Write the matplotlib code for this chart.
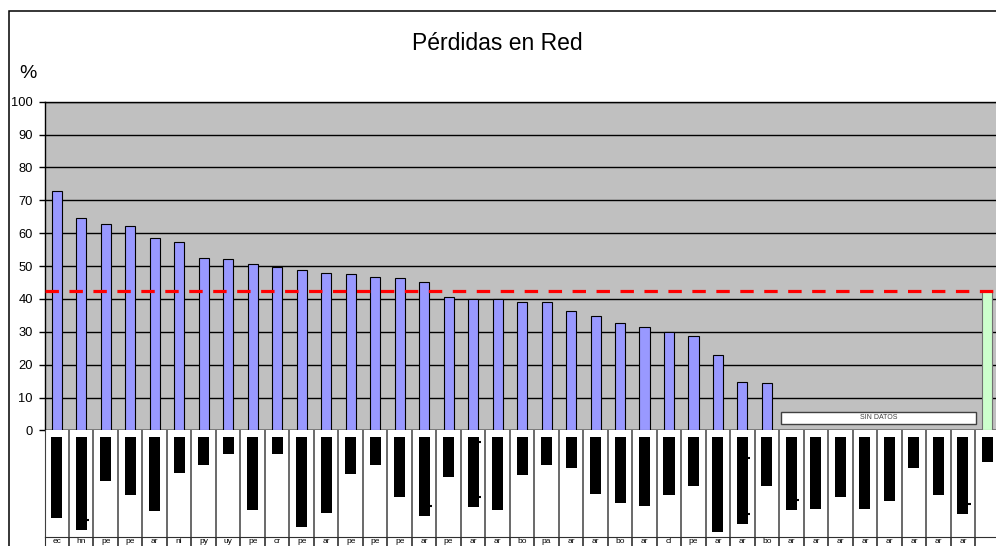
import numpy as np
import matplotlib
matplotlib.use('Agg')
import matplotlib.pyplot as plt
from matplotlib.patches import Rectangle

plt.rcParams['font.family'] = ['Liberation Sans', 'DejaVu Sans']

# Datos
paises = ['ec', 'hn', 'pe', 'pe', 'ar', 'ni', 'py', 'uy', 'pe', 'cr',
          'pe', 'ar', 'pe', 'pe', 'pe', 'ar', 'pe', 'ar', 'ar', 'bo',
          'pa', 'ar', 'ar', 'bo', 'ar', 'cl', 'pe', 'ar', 'ar', 'bo',
          'ar', 'ar', 'ar', 'ar', 'ar', 'ar', 'ar', 'ar', '']

# perdidas en red (%), None = sin datos
perdidas = [72.8, 64.7, 62.8, 62.2, 58.6, 57.2, 52.4, 52.0, 50.5, 49.8,
            48.8, 47.9, 47.6, 46.6, 46.3, 45.2, 40.7, 40.1, 39.9, 39.2,
            39.2, 36.2, 34.9, 32.8, 31.4, 29.9, 28.8, 22.9, 14.8, 14.3,
            None, None, None, None, None, None, None, None]
promedio = 42.5

# barras negras de la tabla inferior (profundidad en px de celda)
indicador = [81.0, 93.3, 44.3, 58.3, 74.0, 36.0, 28.3, 17.0, 73.0, 17.0,
             90.3, 76.0, 37.0, 28.3, 60.0, 79.0, 40.0, 70.0, 73.3, 38.3,
             28.3, 31.0, 57.0, 66.0, 69.0, 58.0, 49.0, 95.0, 87.0, 49.0,
             73.0, 72.0, 60.0, 72.0, 64.0, 31.0, 58.0, 77.0, 25.0]
# pequenas marcas sobre las barras negras (columna -> profundidades)
marcas = {2: [83.3], 16: [69.3], 18: [5.0, 60.6], 29: [21.6, 77.6],
          31: [63.3], 38: [67.3]}

W, H = 996, 546
fig = plt.figure(figsize=(W / 100, H / 100), dpi=100)
fig.patch.set_facecolor('white')

# marco exterior
fig.add_artist(Rectangle((9 / W, -0.05), 1.2, 1 - 10.5 / H + 0.05,
                         transform=fig.transFigure, fill=False,
                         lw=1.1, ec='black'))

n = len(paises)
x = np.arange(n)
left = 44.5
slot = 24.49
right = left + n * slot

def fx(px):
    return px / W

def fy(py):
    return 1 - py / H

# grafico principal
ax = fig.add_axes([fx(left), fy(430.4), (right - left) / W, (430.4 - 101.7) / H])
ax.set_facecolor('#C0C0C0')
ax.set_xlim(-0.5, n - 0.5)
ax.set_ylim(0, 100)
ax.set_yticks(np.arange(0, 101, 10))
ax.set_xticks([])
ax.tick_params(axis='y', length=4, width=1, pad=4.5, labelsize=9.3, direction='out')
ax.yaxis.grid(True, color='black', lw=1)
ax.set_axisbelow(True)
for s in ['left', 'bottom', 'top']:
    ax.spines[s].set_color('black')
    ax.spines[s].set_linewidth(1)
ax.spines['right'].set_visible(False)

con_datos = [i for i, v in enumerate(perdidas) if v is not None]
sin_datos = [i for i, v in enumerate(perdidas) if v is None]
ax.bar(con_datos, [perdidas[i] for i in con_datos], width=0.41,
       color='#9999FF', edgecolor='black', lw=0.8, zorder=3)
ax.bar([n - 1], [promedio], width=0.41, color='#CCFFCC',
       edgecolor='#707070', lw=0.8, zorder=3)
ax.axhline(promedio, color='red', lw=2.3, dashes=(4.2, 3.3), zorder=5)

# recuadro "SIN DATOS"
x0 = sin_datos[0] - 0.43
x1 = sin_datos[-1] + 0.55
ax.add_patch(Rectangle((x0, 1.95), x1 - x0, 3.75, fc='white', ec='#404040',
                       lw=1, zorder=4))
ax.text((x0 + x1) / 2, 3.8, 'SIN DATOS', ha='center', va='center',
        fontsize=5, color='#404040', zorder=6)

fig.text(fx(497), fy(44), 'Pérdidas en Red', ha='center', va='center',
         fontsize=16.5)
fig.text(fx(27.7), fy(73), '%', ha='center', va='center', fontsize=14)

# tabla inferior: barras negras
ax2 = fig.add_axes([fx(left), fy(536.7), (right - left) / W, (536.7 - 430.4) / H])
ax2.set_xlim(-0.5, n - 0.5)
ax2.set_ylim(106.3, 0)
ax2.set_xticks([])
ax2.set_yticks([])
for s in ['top', 'right', 'bottom']:
    ax2.spines[s].set_visible(False)
ax2.spines['left'].set_color('#404040')
ax2.bar(x, indicador, bottom=6.3, width=0.45, color='black')
ax2.vlines(np.arange(1, n + 1) - 0.5, 0, 106.3, color='#505050', lw=1.2)
for col, prof in marcas.items():
    for p in prof:
        ax2.hlines(p + 6.3, col - 1 + 0.12, col - 1 + 0.32, color='black', lw=1.5)

# fila de etiquetas
ax3 = fig.add_axes([fx(left), fy(560), (right - left) / W, (560 - 536.7) / H])
ax3.set_xlim(-0.5, n - 0.5)
ax3.set_ylim(0, 1)
ax3.set_xticks([])
ax3.set_yticks([])
for s in ['right', 'bottom']:
    ax3.spines[s].set_visible(False)
ax3.spines['top'].set_color('#303030')
ax3.spines['left'].set_color('#303030')
ax3.vlines(np.arange(1, n + 1) - 0.5, 0, 1, color='#303030', lw=1.2)
for i, lab in enumerate(paises):
    ax3.text(i, 1 - 1.5 / 23.3, lab, ha='center', va='top', fontsize=6)

fig.savefig('out.png', dpi=100)
